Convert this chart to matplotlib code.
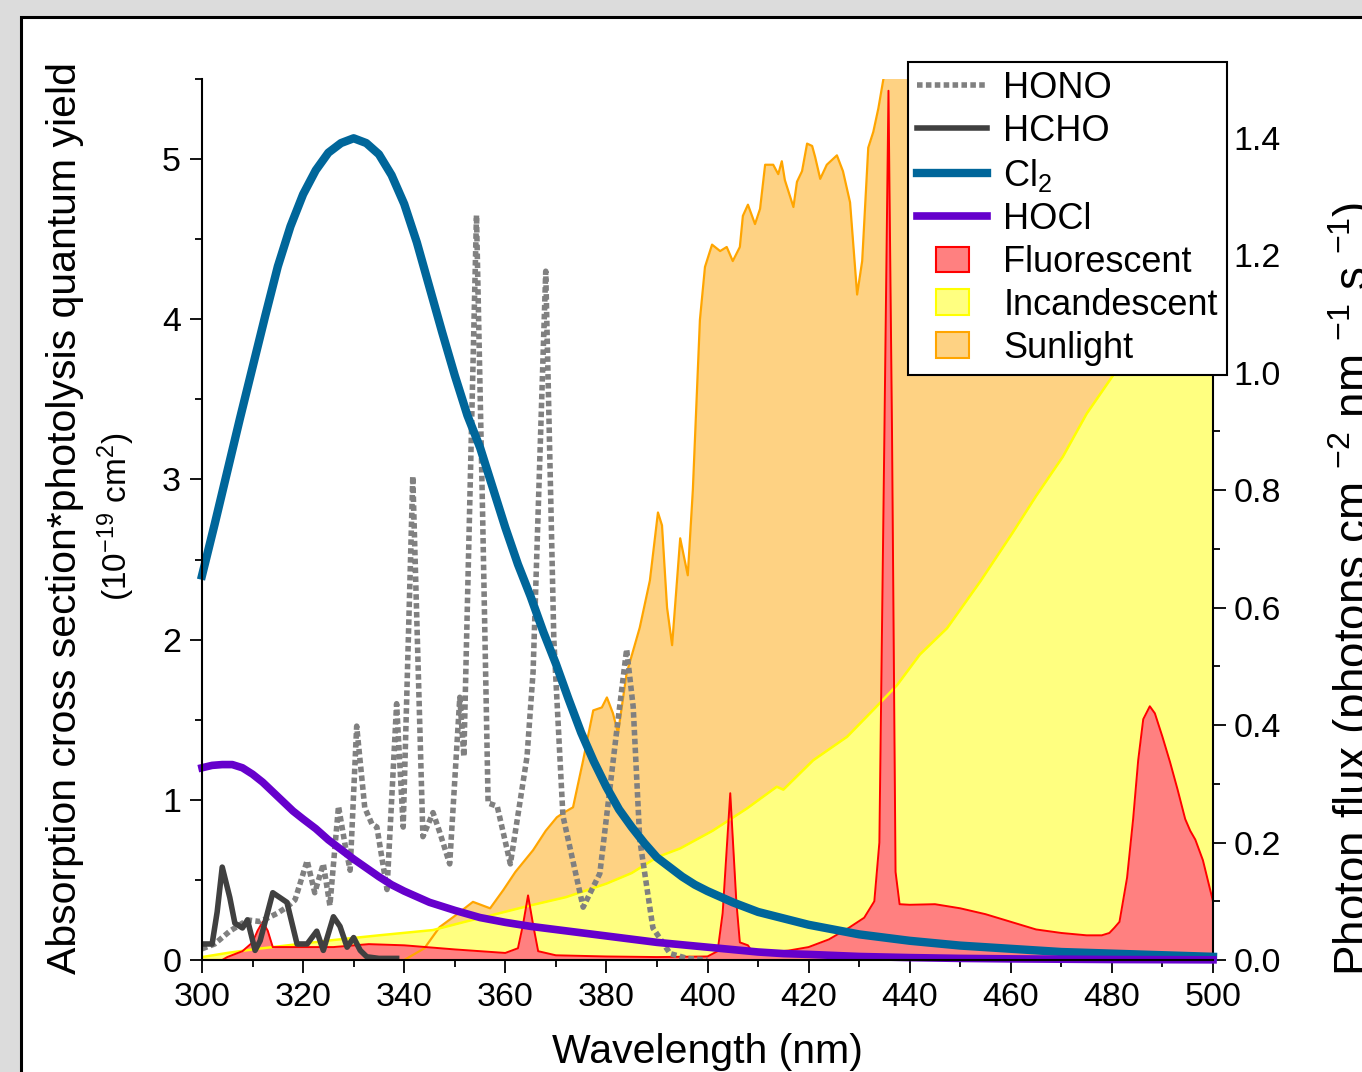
import numpy as np
import matplotlib
matplotlib.use("Agg")
import matplotlib.pyplot as plt
from matplotlib.patches import Rectangle, Patch
from matplotlib.legend_handler import HandlerPatch
from matplotlib.ticker import MultipleLocator, FormatStrFormatter

plt.rcParams['font.family'] = ['Liberation Sans', 'DejaVu Sans']
plt.rcParams['mathtext.default'] = 'regular'

# ---- left axis: absorption cross section * quantum yield (1e-19 cm2) ----
hono_wl = [300, 302.5, 305.5, 309, 311.5, 314.8, 316.8, 318.4, 320.8, 322.3, 324, 325.3,
           327, 328.3, 329.3, 330.6, 332.2, 333.6, 334.6, 336.6, 338.5, 339.8, 341.7, 343.7,
           345.7, 347, 349, 351, 351.8, 354.3, 355.5, 356.6, 358.4, 361, 364.3, 365.5, 368,
           369.6, 371.4, 375.4, 378.7, 382, 384, 385.3, 386.6, 389.2, 392.6, 396, 400]
hono = [0.07, 0.1, 0.18, 0.25, 0.24, 0.29, 0.33, 0.375, 0.62, 0.42, 0.6, 0.34,
        0.96, 0.72, 0.56, 1.46, 0.95, 0.85, 0.83, 0.44, 1.6, 0.83, 3.02, 0.77,
        0.92, 0.8, 0.6, 1.64, 1.27, 4.65, 2.8, 0.98, 0.96, 0.6, 1.27, 1.8, 4.3,
        2.0, 0.9, 0.33, 0.54, 1.42, 1.94, 1.58, 0.75, 0.2, 0.04, 0.01, 0.0]

hcho_wl = [300, 302, 303, 304, 305.5, 306.5, 308, 309, 310.5, 311.5, 313, 314, 315.4, 316.8,
           318.8, 320.8, 322.7, 324, 326, 327.3, 328.7, 330, 331.3, 332.6, 335, 338.5]
hcho = [0.1, 0.1, 0.3, 0.58, 0.39, 0.23, 0.2, 0.25, 0.06, 0.12, 0.3, 0.42, 0.39, 0.36,
        0.1, 0.1, 0.18, 0.06, 0.27, 0.21, 0.08, 0.14, 0.06, 0.02, 0.01, 0.01]

cl2_wl = [300, 302.5, 305, 307.5, 310, 312.5, 315, 317.5, 320, 322.5, 325, 327.5, 330,
          332.5, 335, 337.5, 340, 342.5, 345, 347.5, 350, 352.5, 355, 357.5, 360, 362.5,
          365, 367.5, 370, 372.5, 375, 377.5, 380, 382.5, 385, 387.5, 390, 392.5, 395,
          397.5, 400, 405, 410, 415, 420, 425, 430, 435, 440, 450, 460, 470, 480, 490, 500]
cl2 = [2.4, 2.72, 3.05, 3.38, 3.7, 4.02, 4.33, 4.58, 4.78, 4.93, 5.04, 5.1, 5.13,
       5.1, 5.03, 4.9, 4.72, 4.48, 4.2, 3.92, 3.65, 3.4, 3.2, 2.95, 2.7, 2.47,
       2.27, 2.05, 1.85, 1.63, 1.42, 1.24, 1.08, 0.94, 0.83, 0.73, 0.64, 0.58, 0.52,
       0.47, 0.43, 0.36, 0.3, 0.26, 0.22, 0.19, 0.16, 0.14, 0.12, 0.09, 0.07, 0.05, 0.04,
       0.03, 0.02]

hocl_wl = [300, 302, 304, 306, 308, 310, 312, 314, 316, 318, 320, 322.5, 325, 327.5, 330,
           332.5, 335, 337.5, 340, 342.5, 345, 347.5, 350, 355, 360, 365, 370, 375, 380,
           385, 390, 395, 400, 405, 410, 415, 420, 430, 440, 450, 460, 480, 500]
hocl = [1.2, 1.215, 1.22, 1.22, 1.2, 1.16, 1.11, 1.05, 0.99, 0.93, 0.88, 0.82, 0.75, 0.69,
        0.63, 0.575, 0.52, 0.47, 0.43, 0.395, 0.36, 0.335, 0.31, 0.265, 0.235, 0.21, 0.19,
        0.17, 0.15, 0.13, 0.11, 0.095, 0.08, 0.065, 0.05, 0.04, 0.035, 0.022, 0.015, 0.01,
        0.007, 0.003, 0.001]

# ---- right axis: photon flux ----
fluor_wl = [300, 304, 305, 308, 310, 311, 312, 313, 314, 320, 326, 333, 340, 350, 360, 362.5,
            363.5, 364.5, 365.5, 366.5, 370, 380, 390, 400, 402, 403, 404.5, 405.7, 406.4,
            408, 409, 412, 416, 420, 424, 428, 431, 433, 434, 435, 435.8, 436.5, 437.2, 438,
            440, 445, 450, 455, 460, 465, 470, 475, 478, 479.5, 480.5, 481.5, 483, 484.2,
            485.2, 486.2, 487.5, 488.5, 490, 491.5, 493, 494.5, 495.5, 496.5, 498, 500]
fluor = [0, 0, 0.005, 0.015, 0.03, 0.05, 0.065, 0.05, 0.022, 0.022, 0.022, 0.027, 0.025,
         0.018, 0.012, 0.02, 0.06, 0.11, 0.06, 0.015, 0.008, 0.006, 0.005, 0.006, 0.015,
         0.08, 0.284, 0.1, 0.03, 0.025, 0.012, 0.013, 0.016, 0.022, 0.035, 0.055, 0.072,
         0.1, 0.2, 0.9, 1.48, 0.9, 0.15, 0.095, 0.094, 0.095, 0.088, 0.078, 0.065, 0.052,
         0.046, 0.042, 0.042, 0.046, 0.055, 0.065, 0.14, 0.24, 0.34, 0.41, 0.432, 0.42,
         0.38, 0.337, 0.29, 0.24, 0.22, 0.205, 0.17, 0.1]

incand_wl = [300, 305, 310, 320, 326, 335, 345.7, 352, 359, 365, 372, 380, 385, 390, 394.6,
             401, 407.8, 413.7, 415, 420.9, 427.6, 432.7, 437.5, 442, 447.4, 454, 460.4, 465,
             470.3, 475, 480.2, 490, 500]
incand = [0.005, 0.012, 0.018, 0.028, 0.034, 0.042, 0.051, 0.065, 0.08, 0.093, 0.107, 0.13,
          0.148, 0.175, 0.19, 0.22, 0.258, 0.295, 0.29, 0.34, 0.38, 0.425, 0.468, 0.52,
          0.565, 0.645, 0.728, 0.79, 0.857, 0.93, 0.995, 1.11, 1.22]

sun_wl = [300, 340, 344, 347, 350, 353.6, 357, 359.6, 362, 365.5, 368, 370.2, 371.4, 373.4,
          375.4, 377.4, 379.1, 380.1, 381.3, 382.3, 384, 386.6, 388.6, 390.2, 391, 392, 393,
          394.6, 396.1, 397.1, 398.5, 399.5, 400.9, 402.5, 403.8, 405, 406.4, 407, 408,
          409.4, 410.4, 411.4, 413, 414, 414.7, 415.3, 417, 417.7, 418.7, 419.7, 420.7,
          421.3, 422.3, 423.6, 425.6, 426.8, 428.2, 429.6, 430.6, 431.8, 432.8, 433.8,
          434.7, 436, 440, 450, 460, 470, 480, 490, 500]
sun = [0, 0, 0.02, 0.056, 0.075, 0.099, 0.088, 0.119, 0.15, 0.187, 0.22, 0.243, 0.25, 0.26,
       0.34, 0.425, 0.43, 0.447, 0.42, 0.386, 0.488, 0.566, 0.646, 0.762, 0.74, 0.6, 0.536,
       0.718, 0.655, 0.80, 1.09, 1.18, 1.218, 1.207, 1.214, 1.19, 1.214, 1.267, 1.286,
       1.253, 1.279, 1.354, 1.354, 1.338, 1.36, 1.328, 1.282, 1.325, 1.343, 1.39, 1.386,
       1.367, 1.33, 1.354, 1.37, 1.343, 1.29, 1.133, 1.19, 1.383, 1.41, 1.45,
       1.495, 1.56, 1.62, 1.68, 1.72, 1.75, 1.78, 1.8, 1.82]

W, H = 1362, 1072
fig = plt.figure(figsize=(W / 100, H / 100), dpi=100, facecolor='#dcdcdc')

# white panel with black frame, running off the right and bottom edges
panel = Rectangle((21 / W, -0.2), 2, 1.2 - 16.5 / H, transform=fig.transFigure,
                  facecolor='white', edgecolor='black', lw=2.2, zorder=0)
fig.add_artist(panel)

ax = fig.add_axes([202 / W, 1 - 960 / H, (1213 - 202) / W, (960 - 79) / H])
ax2 = ax.twinx()
ax.set_zorder(ax2.get_zorder() + 1)
ax.patch.set_visible(False)

# light sources (right axis)
ax2.fill_between(sun_wl, sun, color='#fed283', lw=0)
ax2.plot(sun_wl, sun, color='#ffa500', lw=1.6)
ax2.fill_between(incand_wl, incand, color='#ffff80', lw=0)
ax2.plot(incand_wl, incand, color='#ffff00', lw=1.8)
ax2.fill_between(fluor_wl, fluor, color='#ff8080', lw=0)
ax2.plot(fluor_wl, fluor, color='#ff0000', lw=1.4)

# absorbers (left axis)
l_hono, = ax.plot(hono_wl, hono, color='#808080', lw=4, ls=(0, (1, 0.6)))
l_hcho, = ax.plot(hcho_wl, hcho, color='#404040', lw=4)
l_cl2, = ax.plot(cl2_wl, cl2, color='#00669a', lw=6, clip_on=False)
l_hocl, = ax.plot(hocl_wl, hocl, color='#6600cc', lw=5.5, clip_on=False)

ax.set_xlim(300, 500)
ax.set_ylim(0, 5.5)
ax2.set_ylim(0, 1.5)

for a in (ax, ax2):
    a.spines['top'].set_visible(False)
    for s in a.spines.values():
        s.set_linewidth(1.5)
ax.spines['right'].set_visible(False)
ax2.spines['left'].set_visible(False)
ax2.spines['bottom'].set_visible(False)

ax.xaxis.set_major_locator(MultipleLocator(20))
ax.xaxis.set_minor_locator(MultipleLocator(10))
ax.yaxis.set_major_locator(MultipleLocator(1))
ax.yaxis.set_minor_locator(MultipleLocator(0.5))
ax2.yaxis.set_major_locator(MultipleLocator(0.2))
ax2.yaxis.set_minor_locator(MultipleLocator(0.1))
ax2.yaxis.set_major_formatter(FormatStrFormatter('%.1f'))

ax.xaxis.set_ticks_position('bottom')
ax.yaxis.set_ticks_position('left')
ax.tick_params(which='major', direction='out', length=9, width=1.3, labelsize=24.5, pad=6)
ax.tick_params(which='minor', direction='out', length=5, width=1.3)
ax.tick_params(axis='x', which='major', pad=7)
ax2.tick_params(which='major', direction='out', length=9, width=1.3, labelsize=24.5, pad=6)
ax2.tick_params(which='minor', direction='out', length=5, width=1.3)

fig.text(707.5 / W, 1 - 1063 / H, 'Wavelength (nm)', ha='center', va='baseline', fontsize=29.5)
fig.text(65 / W, 1 - 518 / H, 'Absorption cross section*photolysis quantum yield',
         rotation=90, ha='center', va='center', fontsize=29.5)
fig.text(116 / W, 1 - 517 / H, r'(10$^{-19}$ cm$^{2}$)',
         rotation=90, ha='center', va='center', fontsize=24)
# right label runs off the edge of the panel, as in the source image
fig.text(1380 / W, 1 - 976 / H, r'Photon flux (photons cm $^{-2}$ nm $^{-1}$ s $^{-1}$)',
         rotation=90, ha='right', va='bottom', fontsize=33)


def small_box(legend, orig_handle, xdescent, ydescent, width, height, fontsize):
    return Rectangle((0.27 * width - xdescent, -ydescent), 0.47 * width, height)


p_fl = Patch(facecolor='#ff8080', edgecolor='#ff0000', lw=1.5)
p_in = Patch(facecolor='#ffff80', edgecolor='#ffff00', lw=1.5)
p_su = Patch(facecolor='#fed283', edgecolor='#ffa500', lw=1.5)
leg = ax.legend([l_hono, l_hcho, l_cl2, l_hocl, p_fl, p_in, p_su],
                ['HONO', 'HCHO', 'Cl$_2$', 'HOCl', 'Fluorescent', 'Incandescent', 'Sunlight'],
                loc='upper left', bbox_to_anchor=(908 / W, 1 - 62 / H),
                bbox_transform=fig.transFigure, fontsize=26, frameon=True, fancybox=False,
                edgecolor='black', framealpha=1, borderaxespad=0, handlelength=1.95,
                handletextpad=0.44, labelspacing=0.22, borderpad=0.25,
                handler_map={Patch: HandlerPatch(patch_func=small_box)})
leg.get_frame().set_linewidth(1.5)

fig.savefig('out.png', dpi=100, facecolor=fig.get_facecolor())
